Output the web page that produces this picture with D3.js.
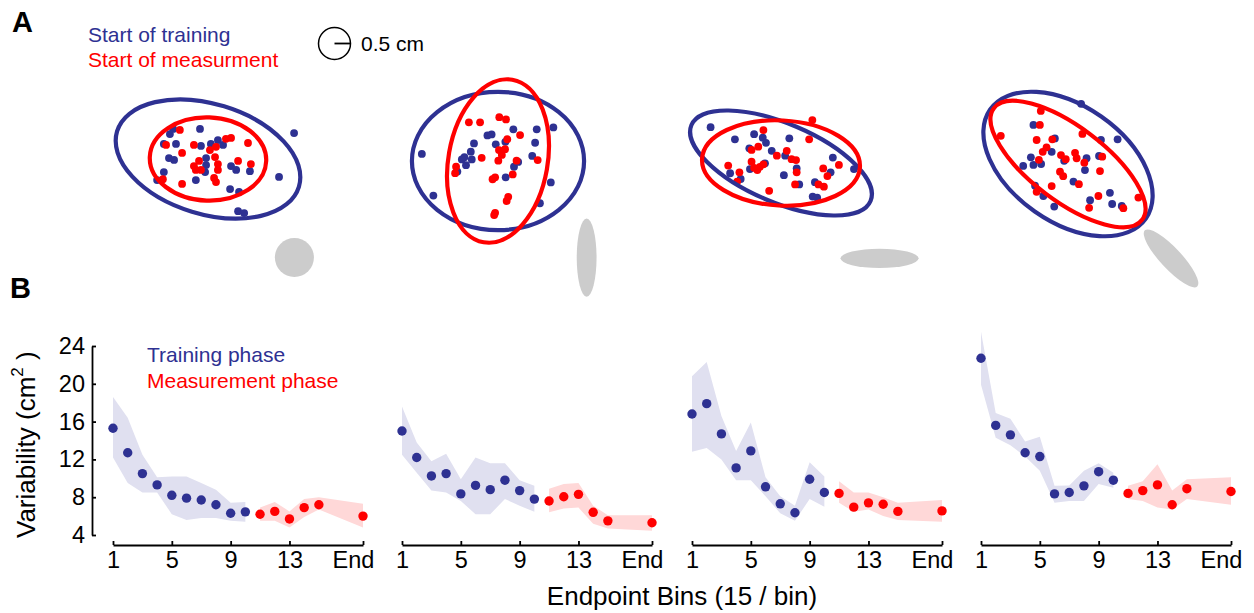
<!DOCTYPE html>
<html>
<head>
<meta charset="utf-8">
<script src="https://cdn.jsdelivr.net/npm/d3@7"></script>
<style>
  body { margin: 0; background: #fff; }
  text { font-family: "Liberation Sans", Arial, Helvetica, sans-serif; }
</style>
</head>
<body>
<div id="chart"></div>
<script>
// ---------- DATA ----------
// Panel B : variability per endpoint bin (cm^2), four subjects
const trainBins = [1, 2, 3, 4, 5, 6, 7, 8, 9, 10];
const measBins = [11, 12, 13, 14, 15, 18];            // 18 = "End"
const xTicks = [1, 5, 9, 13, 18];
const xTickLabels = ["1", "5", "9", "13", "End"];
const yTicks = [4, 8, 12, 16, 20, 24];

const trainMean = [
    [15.3, 12.7, 10.5, 9.3, 8.2, 7.9, 7.7, 7.2, 6.3, 6.45],
    [15.0, 12.2, 10.25, 10.5, 8.35, 9.25, 8.8, 9.8, 8.7, 7.8],
    [16.8, 17.9, 14.7, 11.1, 12.9, 9.1, 7.3, 6.35, 9.9, 8.5],
    [22.7, 15.6, 14.6, 12.7, 12.3, 8.35, 8.5, 9.2, 10.7, 9.8]
];
const trainHi = [
    [18.6, 16.4, 12.5, 10.1, 10.2, 10.2, 9.5, 8.8, 7.4, 7.5],
    [17.6, 13.8, 11.8, 12.6, 9.9, 12.2, 11.6, 11.6, 9.8, 9.2],
    [20.8, 22.3, 16.6, 12.9, 15.9, 10.1, 8.1, 7.1, 11.7, 10.2],
    [25.5, 16.9, 16.3, 13.9, 14.4, 9.2, 9.25, 10.8, 11.6, 10.6]
];
const trainLo = [
    [12.2, 9.5, 8.5, 8.5, 6.2, 5.6, 5.8, 5.8, 5.5, 5.4],
    [12.5, 10.6, 8.7, 8.5, 7.6, 6.2, 6.2, 7.8, 7.1, 6.45],
    [12.8, 13.2, 12.0, 9.8, 9.8, 8.1, 6.3, 5.5, 7.8, 7.0],
    [19.9, 14.3, 13.5, 12.3, 10.8, 7.4, 7.6, 7.6, 9.4, 9.0]
];
const measMean = [
    [6.2, 6.5, 5.7, 6.9, 7.2, 6.0],
    [7.6, 8.05, 8.3, 6.4, 5.5, 5.3],
    [8.4, 6.95, 7.4, 7.25, 6.5, 6.55],
    [8.4, 8.7, 9.3, 7.2, 8.9, 8.6]
];
const measHi = [
    [6.9, 7.5, 6.5, 7.8, 8.0, 7.3],
    [8.9, 9.4, 9.5, 7.1, 6.1, 6.1],
    [9.7, 8.5, 8.5, 8.0, 7.4, 7.7],
    [9.2, 9.7, 11.5, 8.7, 9.9, 10.1]
];
const measLo = [
    [5.5, 5.5, 4.8, 5.9, 6.7, 4.8],
    [6.4, 6.8, 6.9, 5.2, 4.7, 4.45],
    [7.4, 6.45, 6.7, 6.0, 5.6, 5.4],
    [7.8, 7.6, 6.9, 6.7, 7.8, 7.2]
];

// Panel A : endpoints (cm, relative to target) at start of training / measurement
const startTraining = [
    [[-1.09,0.94],[-0.25,0.94],[2.69,0.81],[-1.38,0.47],[-1.0,0.47],[-1.19,0.78],[-0.22,0.41],[0.09,0.47],
     [0.31,0.59],[0.47,0.44],[-1.22,0.03],[-1.06,-0.03],[-0.06,0.03],[-0.06,-0.19],[0.72,-0.22],[0.88,-0.34],
     [1.31,-0.38],[2.22,-0.56],[-1.38,-0.41],[-0.09,-0.41],[-0.38,-0.66],[-1.59,-0.66],[0.69,-0.94],[0.97,-1.03],
     [0.94,-1.63],[1.13,-1.69]],
    [[-2.38,0.22],[-2.02,-1.08],[-0.75,0.55],[-0.33,0.80],[-0.20,0.83],[-0.07,0.52],[0.48,0.99],[0.23,0.60],
     [1.21,0.99],[1.73,1.05],[1.16,0.57],[1.07,0.16],[-0.85,0.29],[-1.05,0.12],[-1.13,0.05],[-0.82,0.05],
     [-1.0,-0.13],[-1.27,-0.33],[0.5,-0.18],[0.63,-0.03],[0.24,-0.51],[1.65,-0.67],[1.31,-1.32]],
    [[-2.20,1.12],[-1.44,0.74],[-0.84,0.90],[-0.57,0.79],[-0.47,0.63],[-0.99,0.46],[-0.29,0.38],[0.26,0.77],
     [0.13,0.23],[1.62,0.17],[1.55,-0.29],[0.49,-0.17],[0.09,-0.38],[-0.5,-0.01],[-0.97,-0.19],[-1.59,-0.32],
     [-1.26,-0.5],[0.57,-0.67],[1.06,-0.60],[0.99,-1.05],[1.13,-1.08],[2.28,-0.19]],
    [[0.41,1.88],[-1.08,1.22],[-0.41,0.80],[-0.51,0.38],[-1.16,0.21],[-1.40,-0.06],[-1.08,-0.03],[-0.84,0.0],
     [-0.12,0.10],[0.58,0.18],[0.53,-0.19],[0.17,-0.55],[1.03,0.75],[1.55,0.77],[0.97,0.25],[-1.03,-0.68],
     [-0.77,-1.0],[-0.43,-1.33],[0.69,-1.13],[1.31,-0.90],[1.38,-1.25],[1.68,-1.31]]
];
const startMeasurement = [
    [[-0.88,0.91],[-1.31,0.44],[-0.44,0.44],[-0.81,0.19],[0.06,0.28],[0.25,0.38],[0.56,0.63],[0.72,0.66],
     [1.25,0.5],[0.22,0.06],[-0.28,-0.06],[-0.44,-0.22],[-0.38,-0.34],[-0.22,-0.34],[0.31,-0.16],[0.31,-0.34],
     [0.94,-0.06],[1.34,-0.16],[-1.41,-0.63],[-0.81,-0.78],[0.19,-0.59],[0.25,-0.72]],
    [[-0.91,1.21],[-0.56,1.21],[0.04,1.37],[0.25,1.30],[0.69,0.81],[0.29,0.68],[0.03,0.34],[0.22,0.37],
     [0.12,0.19],[0.01,0.01],[-0.51,0.10],[0.58,0.01],[1.24,0.03],[-1.31,-0.18],[-1.34,-0.38],[0.46,-0.42],
     [-0.09,-0.51],[-0.17,-0.57],[0.32,-1.12],[0.27,-1.25],[-0.09,-1.62],[-0.12,-1.69]],
    [[0.98,1.34],[-0.55,1.03],[0.88,0.74],[-0.71,0.51],[-0.92,0.41],[0.18,0.38],[-0.13,0.23],[0.33,0.12],
     [0.47,0.09],[-1.65,-0.08],[-0.92,0.04],[-0.84,-0.15],[-0.74,-0.22],[-0.66,-0.12],[-0.55,-0.04],[-1.30,-0.29],
     [-1.37,-0.58],[0.49,-0.29],[1.32,-0.17],[1.81,-0.06],[1.45,-0.41],[0.44,-0.67],[1.17,-0.67],[1.34,-0.74],
     [-0.37,-0.87]],
    [[-0.85,1.66],[-0.88,1.22],[-2.10,0.88],[-0.98,0.75],[-0.49,0.77],[-0.67,0.52],[-0.79,0.38],[0.45,0.94],
     [-0.22,0.28],[-0.07,0.15],[0.22,0.35],[0.27,0.18],[0.51,0.04],[-0.91,0.13],[-0.25,-0.24],[-0.15,-0.38],
     [1.0,-0.22],[1.07,0.23],[0.34,-0.63],[-0.51,-0.69],[-0.98,-0.87],[0.95,-1.0],[0.66,-1.37],[1.73,-1.38],
     [2.20,-1.05]]
];
// ellipses: [cx, cy, semi-axis a, semi-axis b, angle deg] in cm
const trainEllipse = [[0, 0, 2.97, 1.72, -17], [0, 0, 2.69, 2.16, 0], [0, 0, 3.04, 1.23, -23], [0, 0, 2.97, 1.81, -35]];
const measEllipse = [[0, 0, 1.82, 1.30, -2], [0, 0, 2.58, 1.55, 80], [0, 0, 2.47, 1.33, -3], [0, 0, 2.90, 1.16, -37]];
const noiseEllipse = [[2.70, -3.08, 0.61, 0.61, 0], [2.77, -3.02, 1.22, 0.31, 90], [3.08, -2.98, 1.22, 0.30, 0], [3.22, -2.95, 1.20, 0.33, -47]];
const scaleRadius = 0.5; // cm

// ---------- STYLE / LAYOUT ----------
const W = 1254, H = 613;
const BLUE = "#2e3192", RED = "#ff0000";
const BLUE_BAND = "#e0e0f0", RED_BAND = "#ffd8d8", GRAY = "#cccccc";
const pxPerCm = 32;
const scatterX = [208, 498, 781, 1068];
const scatterY = [159, 161, 163, 164];
const panelX0 = [113, 402, 692, 981];
const panelW = 250;

const svg = d3.select("#chart").append("svg")
    .attr("width", W).attr("height", H);

// ---------- PANEL A ----------
function drawEllipse(g, e, x, y) {
    const cx = x(e[0]), cy = y(e[1]);
    return g.append("ellipse")
        .attr("cx", cx).attr("cy", cy)
        .attr("rx", x(e[2]) - x(0))
        .attr("ry", y(0) - y(e[3]))
        .attr("transform", `rotate(${-e[4]},${cx},${cy})`);
}

scatterX.forEach((cx0, i) => {
    const x = d3.scaleLinear().domain([0, 1]).range([cx0, cx0 + pxPerCm]);
    const y = d3.scaleLinear().domain([0, 1]).range([scatterY[i], scatterY[i] - pxPerCm]);
    const g = svg.append("g");

    drawEllipse(g, noiseEllipse[i], x, y).attr("fill", GRAY);

    g.selectAll("circle.tr").data(startTraining[i]).join("circle")
        .attr("class", "tr")
        .attr("cx", d => x(d[0])).attr("cy", d => y(d[1]))
        .attr("r", 3.9).attr("fill", BLUE);
    g.selectAll("circle.ms").data(startMeasurement[i]).join("circle")
        .attr("class", "ms")
        .attr("cx", d => x(d[0])).attr("cy", d => y(d[1]))
        .attr("r", 3.9).attr("fill", RED);

    drawEllipse(g, trainEllipse[i], x, y)
        .attr("fill", "none").attr("stroke", BLUE).attr("stroke-width", 4.2);
    drawEllipse(g, measEllipse[i], x, y)
        .attr("fill", "none").attr("stroke", RED).attr("stroke-width", 4.2);
});

// scale circle
{
    const sx = d3.scaleLinear().domain([0, 1]).range([334.5, 334.5 + pxPerCm]);
    svg.append("circle").attr("cx", sx(0)).attr("cy", 43.5)
        .attr("r", sx(scaleRadius) - sx(0))
        .attr("fill", "none").attr("stroke", "#000").attr("stroke-width", 1.5);
    svg.append("line").attr("x1", sx(0)).attr("x2", sx(scaleRadius))
        .attr("y1", 43.5).attr("y2", 43.5)
        .attr("stroke", "#000").attr("stroke-width", 1.8);
    svg.append("text").attr("x", 361).attr("y", 51).attr("font-size", 21).text("0.5 cm");
}

svg.append("text").attr("x", 88).attr("y", 42).attr("font-size", 21).attr("fill", BLUE).text("Start of training");
svg.append("text").attr("x", 88).attr("y", 67).attr("font-size", 21).attr("fill", RED).text("Start of measurment");

svg.append("text").attr("x", 12).attr("y", 32).attr("font-size", 29).attr("font-weight", "bold").text("A");
svg.append("text").attr("x", 10).attr("y", 298).attr("font-size", 29).attr("font-weight", "bold").text("B");

// ---------- PANEL B ----------
const y = d3.scaleLinear().domain([4, 24]).range([535, 346]);

panelX0.forEach((x0, i) => {
    const x = d3.scaleLinear().domain([1, 18]).range([x0, x0 + panelW]);
    const g = svg.append("g");

    const area = d3.area().x(d => x(d.bin)).y0(d => y(d.lo)).y1(d => y(d.hi));
    const tr = trainBins.map((b, k) => ({ bin: b, lo: trainLo[i][k], hi: trainHi[i][k], m: trainMean[i][k] }));
    const ms = measBins.map((b, k) => ({ bin: b, lo: measLo[i][k], hi: measHi[i][k], m: measMean[i][k] }));

    g.append("path").datum(tr).attr("d", area).attr("fill", BLUE_BAND);
    g.append("path").datum(ms).attr("d", area).attr("fill", RED_BAND);

    g.selectAll("circle.tr").data(tr).join("circle").attr("class", "tr")
        .attr("cx", d => x(d.bin)).attr("cy", d => y(d.m)).attr("r", 4.7).attr("fill", BLUE);
    g.selectAll("circle.ms").data(ms).join("circle").attr("class", "ms")
        .attr("cx", d => x(d.bin)).attr("cy", d => y(d.m)).attr("r", 4.7).attr("fill", RED);

    const xAxis = g.append("g").attr("transform", "translate(0,545)")
        .call(d3.axisBottom(x).tickValues(xTicks).tickFormat((d, k) => xTickLabels[k])
            .tickSizeInner(-4).tickSizeOuter(0).tickPadding(6));
    xAxis.selectAll("text").attr("font-size", 23.5).attr("font-family", null).attr("fill", "#000")
        .attr("dx", d => d === 18 ? -10 : 0);
    xAxis.selectAll("path, line").attr("stroke", "#000").attr("stroke-width", 1.8);

    if (i === 0) {
        const yAxis = g.append("g").attr("transform", "translate(92,0)")
            .call(d3.axisLeft(y).tickValues(yTicks).tickSizeInner(-4).tickSizeOuter(0).tickPadding(7));
        yAxis.selectAll("text").attr("font-size", 23.5).attr("font-family", null).attr("fill", "#000");
        yAxis.selectAll("path, line").attr("stroke", "#000").attr("stroke-width", 1.8);

        g.append("text").attr("x", 147).attr("y", 362).attr("font-size", 21).attr("fill", BLUE).text("Training phase");
        g.append("text").attr("x", 147).attr("y", 388).attr("font-size", 21).attr("fill", RED).text("Measurement phase");
    }
});

// axis titles
const yl = svg.append("text").attr("transform", "translate(35,538) rotate(-90)").attr("font-size", 26);
yl.append("tspan").text("Variability (cm");
yl.append("tspan").attr("font-size", 17).attr("dy", -12).text("2");
yl.append("tspan").attr("dy", 12).text(" )");

svg.append("text").attr("x", 682).attr("y", 605).attr("text-anchor", "middle")
    .attr("font-size", 26).text("Endpoint Bins (15 / bin)");
</script>
</body>
</html>
